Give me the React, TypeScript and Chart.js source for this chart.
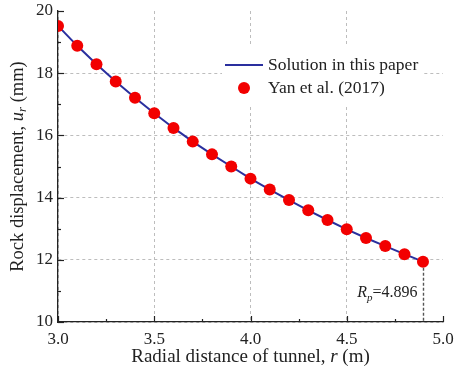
import React, { useEffect, useRef } from "react";
import { Chart, registerables } from "chart.js";

Chart.register(...registerables);

const rValues = [3.0, 3.1, 3.2, 3.3, 3.4, 3.5, 3.6, 3.7, 3.8, 3.9, 4.0, 4.1, 4.2, 4.3, 4.4, 4.5, 4.6, 4.7, 4.8, 4.896];
const uValues = [19.52, 18.88, 18.29, 17.73, 17.21, 16.71, 16.24, 15.8, 15.39, 15.0, 14.61, 14.26, 13.92, 13.59, 13.28, 12.98, 12.7, 12.44, 12.18, 11.94];
const xMajorTicks = [3.0, 3.5, 4.0, 4.5, 5.0];
const xMinorTicks = [3.25, 3.75, 4.25, 4.75];
const yMajorTicks = [10, 12, 14, 16, 18, 20];
const yMinorTicks = [11, 13, 15, 17, 19];
const rpValue = 4.896;
const rpLabel = "=4.896";
const legendLabels = ["Solution in this paper", "Yan et al. (2017)"];

const SERIF = '"Liberation Serif", "Times New Roman", serif';
const LINE_COLOR = "#2a2f9e";
const DOT_COLOR = "#f20000";

const overlayPlugin = {
  id: "overlay",
  afterDraw(chart: any) {
    const ctx = chart.ctx as CanvasRenderingContext2D;
    const xs = chart.scales.x;
    const ys = chart.scales.y;
    const ca = chart.chartArea;
    ctx.save();
    // inward ticks
    ctx.strokeStyle = "#222";
    ctx.lineWidth = 1.2;
    ctx.setLineDash([]);
    const tickX = (v: number, len: number) => {
      const px = Math.round(xs.getPixelForValue(v)) + 0.5;
      ctx.beginPath();
      ctx.moveTo(px, ca.bottom);
      ctx.lineTo(px, ca.bottom - len);
      ctx.stroke();
    };
    const tickY = (v: number, len: number) => {
      const py = Math.round(ys.getPixelForValue(v)) + 0.5;
      ctx.beginPath();
      ctx.moveTo(ca.left, py);
      ctx.lineTo(ca.left + len, py);
      ctx.stroke();
    };
    xMajorTicks.forEach((v) => tickX(v, 6));
    xMinorTicks.forEach((v) => tickX(v, 3));
    yMajorTicks.forEach((v) => tickY(v, 6));
    yMinorTicks.forEach((v) => tickY(v, 3));

    // Rp dashed drop line
    const rpX = Math.round(xs.getPixelForValue(rpValue)) + 0.5;
    const rpY = ys.getPixelForValue(uValues[uValues.length - 1]);
    ctx.strokeStyle = "#555";
    ctx.lineWidth = 1.4;
    ctx.setLineDash([3, 2]);
    ctx.beginPath();
    ctx.moveTo(rpX, rpY + 6);
    ctx.lineTo(rpX, ca.bottom);
    ctx.stroke();
    ctx.setLineDash([]);

    // Rp label
    ctx.fillStyle = "#222";
    ctx.textBaseline = "alphabetic";
    ctx.textAlign = "left";
    const fBig = `16px ${SERIF}`;
    const fBigI = `italic 16px ${SERIF}`;
    const fSubI = `italic 11px ${SERIF}`;
    ctx.font = fBigI;
    const wR = ctx.measureText("R").width;
    ctx.font = fSubI;
    const wp = ctx.measureText("p").width;
    ctx.font = fBig;
    const wEq = ctx.measureText(rpLabel).width;
    let tx = rpX - 6 - (wR + wp + wEq);
    const ty = 297;
    ctx.font = fBigI;
    ctx.fillText("R", tx, ty);
    tx += wR;
    ctx.font = fSubI;
    ctx.fillText("p", tx, ty + 4);
    tx += wp;
    ctx.font = fBig;
    ctx.fillText(rpLabel, tx, ty);

    // Legend
    ctx.fillStyle = "#fff";
    ctx.fillRect(222, 47, 200, 58);
    ctx.strokeStyle = LINE_COLOR;
    ctx.lineWidth = 2;
    ctx.beginPath();
    ctx.moveTo(225, 65);
    ctx.lineTo(263, 65);
    ctx.stroke();
    ctx.fillStyle = DOT_COLOR;
    ctx.beginPath();
    ctx.arc(244, 88, 6, 0, Math.PI * 2);
    ctx.fill();
    ctx.fillStyle = "#222";
    ctx.font = `17.5px ${SERIF}`;
    ctx.textBaseline = "middle";
    ctx.fillText(legendLabels[0], 268, 65);
    ctx.fillText(legendLabels[1], 268, 88);

    // X title
    const fT = `19px ${SERIF}`;
    const fTI = `italic 19px ${SERIF}`;
    const xParts = ["Radial distance of tunnel, ", "r", " (m)"];
    ctx.font = fT;
    const w0 = ctx.measureText(xParts[0]).width;
    const w2 = ctx.measureText(xParts[2]).width;
    ctx.font = fTI;
    const w1 = ctx.measureText(xParts[1]).width;
    let xx = (ca.left + ca.right) / 2 - (w0 + w1 + w2) / 2;
    ctx.textBaseline = "middle";
    ctx.font = fT;
    ctx.fillText(xParts[0], xx, 357);
    xx += w0;
    ctx.font = fTI;
    ctx.fillText(xParts[1], xx, 357);
    xx += w1;
    ctx.font = fT;
    ctx.fillText(xParts[2], xx, 357);

    // Y title
    const fY = `18.5px ${SERIF}`;
    const fYI = `italic 18.5px ${SERIF}`;
    const fYS = `italic 13px ${SERIF}`;
    const yParts = ["Rock displacement, ", "u", "r", " (mm)"];
    ctx.font = fY;
    const a0 = ctx.measureText(yParts[0]).width;
    const a3 = ctx.measureText(yParts[3]).width;
    ctx.font = fYI;
    const a1 = ctx.measureText(yParts[1]).width;
    ctx.font = fYS;
    const a2 = ctx.measureText(yParts[2]).width;
    ctx.translate(18, (ca.top + ca.bottom) / 2);
    ctx.rotate(-Math.PI / 2);
    let yy = -(a0 + a1 + a2 + a3) / 2;
    ctx.font = fY;
    ctx.fillText(yParts[0], yy, 0);
    yy += a0;
    ctx.font = fYI;
    ctx.fillText(yParts[1], yy, 0);
    yy += a1;
    ctx.font = fYS;
    ctx.fillText(yParts[2], yy, 5);
    yy += a2;
    ctx.font = fY;
    ctx.fillText(yParts[3], yy, 0);
    ctx.restore();
  },
};

export default function App() {
  const ref = useRef<HTMLCanvasElement | null>(null);
  useEffect(() => {
    if (!ref.current) return;
    const pts = rValues.map((r, i) => ({ x: r, y: uValues[i] }));
    const gridColor = (max: number) => (c: any) =>
      c.tick && c.tick.value === max ? "rgba(0,0,0,0)" : "#bdbdbd";
    const chart = new Chart(ref.current, {
      type: "scatter",
      data: {
        datasets: [
          {
            type: "scatter",
            label: legendLabels[1],
            data: pts,
            pointRadius: 6,
            pointHoverRadius: 6,
            backgroundColor: DOT_COLOR,
            borderWidth: 0,
            order: 0,
          } as any,
          {
            type: "line",
            label: legendLabels[0],
            data: pts,
            showLine: true,
            pointRadius: 0,
            borderColor: LINE_COLOR,
            borderWidth: 2,
            tension: 0,
            fill: false,
            order: 1,
          } as any,
        ],
      },
      options: {
        responsive: false,
        animation: false,
        layout: { padding: { top: 11, right: 11, left: 0, bottom: 0 } },
        plugins: { legend: { display: false }, tooltip: { enabled: false } },
        scales: {
          x: {
            type: "linear",
            min: 3,
            max: 5,
            afterFit: (s: any) => {
              s.height = 58;
              s.paddingLeft = 0;
              s.paddingRight = 0;
            },
            ticks: {
              stepSize: 0.5,
              padding: 7,
              color: "#222",
              font: { family: SERIF, size: 17 },
              callback: (v: any) => Number(v).toFixed(1),
              maxRotation: 0,
            },
            grid: { color: gridColor(5), drawTicks: false, lineWidth: 1 },
            border: { display: true, color: "#222", width: 1.3, dash: [3, 3] },
          },
          y: {
            type: "linear",
            min: 10,
            max: 20,
            afterFit: (s: any) => {
              s.width = 58;
              s.paddingTop = 0;
              s.paddingBottom = 0;
            },
            ticks: {
              stepSize: 2,
              padding: 5,
              color: "#222",
              font: { family: SERIF, size: 17 },
            },
            grid: { color: gridColor(20), drawTicks: false, lineWidth: 1 },
            border: { display: true, color: "#222", width: 1.3, dash: [3, 3] },
          },
        },
      } as any,
      plugins: [overlayPlugin],
    });
    return () => chart.destroy();
  }, []);
  return (
    <div style={{ position: "fixed", left: 0, top: 0, width: 454, height: 380, background: "#fff" }}>
      <canvas ref={ref} width={454} height={380} />
    </div>
  );
}
